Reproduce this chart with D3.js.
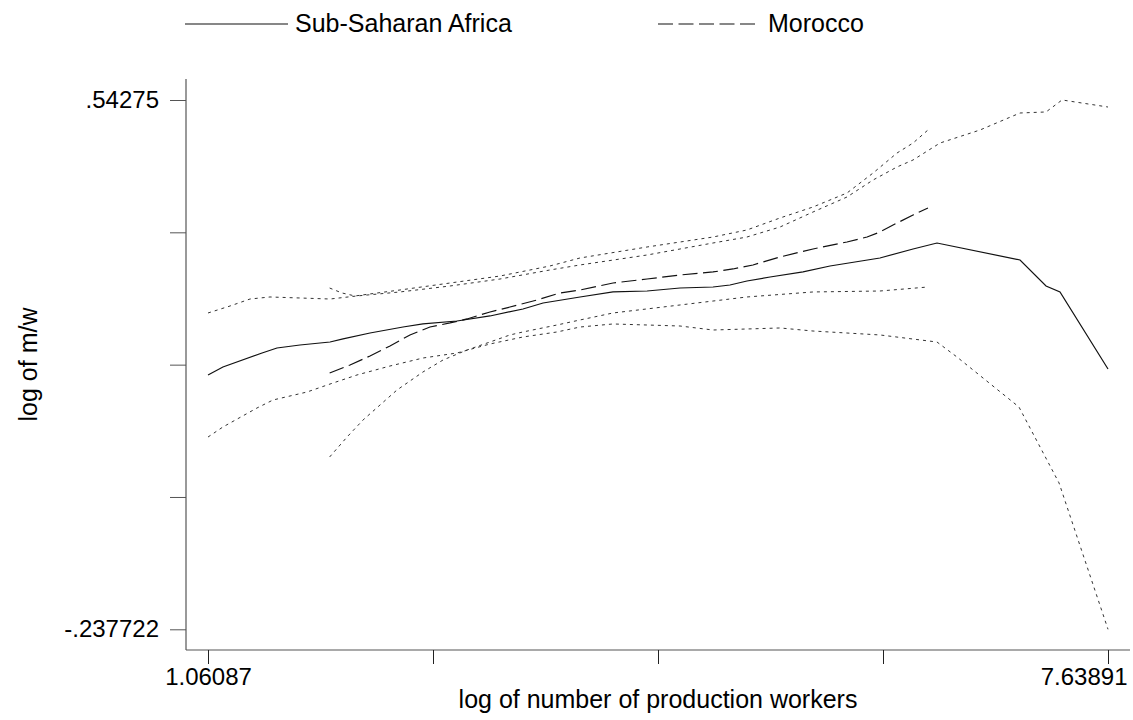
<!DOCTYPE html>
<html>
<head>
<meta charset="utf-8">
<script src="https://cdn.jsdelivr.net/npm/d3@7"></script>
<style>
  html, body { margin: 0; padding: 0; background: #fff; }
  svg { display: block; font-family: "Liberation Sans", Arial, Helvetica, sans-serif; }
</style>
</head>
<body>
<svg id="chart" width="1133" height="720"></svg>
<script>
// ---------------- data ----------------
const seriesNames = ["Sub-Saharan Africa", "Morocco"];

// Sub-Saharan Africa: fitted line
const ssaX = [1.061,1.170,1.456,1.565,1.733,1.953,2.048,2.245,2.486,2.632,2.881,3.122,3.363,3.510,3.780,4.021,4.270,4.511,4.752,4.876,5.000,5.169,5.410,5.607,5.972,6.214,6.389,6.996,7.186,7.288,7.639];
const ssaY = [.1373,.1491,.1697,.1771,.1815,.1859,.1904,.1992,.2080,.2125,.2169,.2243,.2346,.2434,.2523,.2597,.2611,.2655,.2670,.2700,.2759,.2818,.2892,.2980,.3098,.3231,.3319,.3068,.2685,.2597,.1461];

// Sub-Saharan Africa: upper band
const ssaUpX = [1.061,1.222,1.368,1.514,1.733,1.953,2.150,2.464,2.830,3.195,3.560,3.780,4.270,4.752,5.000,5.242,5.483,5.731,5.922,6.097,6.214,6.411,6.703,6.996,7.186,7.303,7.639];
const ssaUpY = [.2287,.2390,.2493,.2523,.2508,.2493,.2538,.2597,.2685,.2788,.2921,.2995,.3142,.3319,.3407,.3555,.3776,.3997,.4248,.4440,.4543,.4793,.4985,.5236,.5251,.5428,.5324];

// Sub-Saharan Africa: lower band
const ssaLoX = [1.061,1.170,1.419,1.536,1.785,1.975,2.150,2.391,2.632,2.881,3.122,3.363,3.612,3.780,4.021,4.511,4.752,5.000,5.242,5.483,5.972,6.389,6.535,6.988,7.281,7.639];
const ssaLoY = [.0458,.0606,.0886,.1004,.1122,.1255,.1373,.1505,.1623,.1697,.1830,.1933,.2007,.2080,.2125,.2095,.2036,.2051,.2066,.2021,.1963,.1859,.1638,.0901,-.0219,-.2377];

// Morocco: fitted line
const morX = [1.950,2.099,2.245,2.391,2.537,2.683,2.830,2.954,3.122,3.268,3.466,3.634,3.780,4.021,4.270,4.511,4.752,4.898,5.044,5.242,5.483,5.731,5.878,5.972,6.097,6.214,6.323];
const morY = [.1402,.1520,.1653,.1800,.1963,.2080,.2140,.2199,.2302,.2375,.2479,.2582,.2626,.2729,.2788,.2847,.2892,.2936,.2995,.3113,.3231,.3334,.3407,.3481,.3614,.3732,.3835];

// Morocco: upper band
const morUpX = [1.950,2.040,2.135,2.464,2.830,3.195,3.560,3.780,4.270,4.752,5.000,5.242,5.483,5.731,5.922,6.097,6.214,6.323];
const morUpY = [.2655,.2582,.2538,.2626,.2729,.2832,.2980,.3098,.3260,.3407,.3511,.3688,.3850,.4056,.4351,.4646,.4793,.4985];

// Morocco: lower band
const morLoX = [1.950,2.077,2.194,2.318,2.442,2.632,2.779,2.954,3.122,3.268,3.363,3.612,3.780,4.021,4.511,5.000,5.483,5.972,6.323];
const morLoY = [.0164,.0458,.0709,.0930,.1151,.1417,.1594,.1741,.1859,.1963,.2007,.2110,.2184,.2287,.2405,.2523,.2597,.2611,.2670];

// axes
const xTicks = [1.06087, 2.70538, 4.34989, 5.99440, 7.63891];
const xTickLabels = ["1.06087", "", "", "", "7.63891"];
const yTicks = [-0.237722, -0.042604, 0.152514, 0.347632, 0.54275];
const yTickLabels = ["-.237722", "", "", "", ".54275"];
const xTitle = "log of number of production workers";
const yTitle = "log of m/w";

// ---------------- drawing ----------------
const svg = d3.select("#chart");
svg.append("rect").attr("width", 1133).attr("height", 720).attr("fill", "#fff");

const x = d3.scaleLinear().domain([xTicks[0], xTicks[4]]).range([208, 1108]);
const y = d3.scaleLinear().domain([yTicks[0], yTicks[4]]).range([629.3, 100]);

const axisLeftX = 186, axisBottomY = 650;
const axisColor = "#555";

// axis lines (with Stata-like padding)
svg.append("line").attr("x1", axisLeftX).attr("x2", axisLeftX)
  .attr("y1", 79).attr("y2", axisBottomY)
  .attr("stroke", axisColor).attr("stroke-width", 1.2);
svg.append("line").attr("x1", axisLeftX).attr("x2", 1130)
  .attr("y1", axisBottomY).attr("y2", axisBottomY)
  .attr("stroke", axisColor).attr("stroke-width", 1.2);

const yAxis = d3.axisLeft(y).tickValues(yTicks)
  .tickFormat((d, i) => yTickLabels[i]).tickSize(16).tickPadding(11).tickSizeOuter(0);
const gy = svg.append("g").attr("transform", `translate(${axisLeftX},0)`).call(yAxis);
gy.select(".domain").remove();
gy.selectAll(".tick line").attr("stroke", axisColor);
gy.selectAll(".tick text").attr("fill", "#000").style("font-size", "24px")
  .style("font-family", "'Liberation Sans', Arial, sans-serif");

const xAxis = d3.axisBottom(x).tickValues(xTicks)
  .tickFormat((d, i) => xTickLabels[i]).tickSize(14).tickPadding(4).tickSizeOuter(0);
const gx = svg.append("g").attr("transform", `translate(0,${axisBottomY})`).call(xAxis);
gx.select(".domain").remove();
gx.selectAll(".tick line").attr("stroke", "#222");
gx.selectAll(".tick text").attr("fill", "#000").style("font-size", "24px")
  .style("font-family", "'Liberation Sans', Arial, sans-serif");
// keep last label inside the picture
gx.selectAll(".tick text").filter((d, i) => i === xTicks.length - 1)
  .attr("text-anchor", "end").attr("x", 19);

// titles
svg.append("text").attr("x", 658).attr("y", 708).attr("text-anchor", "middle")
  .style("font-size", "25px").text(xTitle);
svg.append("text").attr("transform", "translate(37,364.5) rotate(-90)")
  .attr("text-anchor", "middle").style("font-size", "25px").text(yTitle);

// lines
const line = d3.line().x(d => x(d[0])).y(d => y(d[1]));
const zip = (a, b) => a.map((v, i) => [v, b[i]]);

const dotted = { stroke: "#333", width: 1, dash: "3,4" };
const series = [
  { xs: ssaUpX, ys: ssaUpY, st: dotted },
  { xs: ssaLoX, ys: ssaLoY, st: dotted },
  { xs: morUpX, ys: morUpY, st: dotted },
  { xs: morLoX, ys: morLoY, st: dotted },
  { xs: morX, ys: morY, st: { stroke: "#111", width: 1.2, dash: "15,5.5" } },
  { xs: ssaX, ys: ssaY, st: { stroke: "#111", width: 1.2, dash: null } }
];
series.forEach(s => {
  svg.append("path").datum(zip(s.xs, s.ys))
    .attr("d", line).attr("fill", "none")
    .attr("stroke", s.st.stroke).attr("stroke-width", s.st.width)
    .attr("stroke-dasharray", s.st.dash);
});

// legend
const lg = svg.append("g");
lg.append("line").attr("x1", 185).attr("x2", 288).attr("y1", 24).attr("y2", 24)
  .attr("stroke", "#111").attr("stroke-width", 1.2);
lg.append("text").attr("x", 295).attr("y", 32).style("font-size", "25px").text(seriesNames[0]);
lg.append("line").attr("x1", 658).attr("x2", 760).attr("y1", 24).attr("y2", 24)
  .attr("stroke", "#111").attr("stroke-width", 1.2).attr("stroke-dasharray", "15,5.5");
lg.append("text").attr("x", 768).attr("y", 32).style("font-size", "25px").text(seriesNames[1]);
</script>
</body>
</html>
